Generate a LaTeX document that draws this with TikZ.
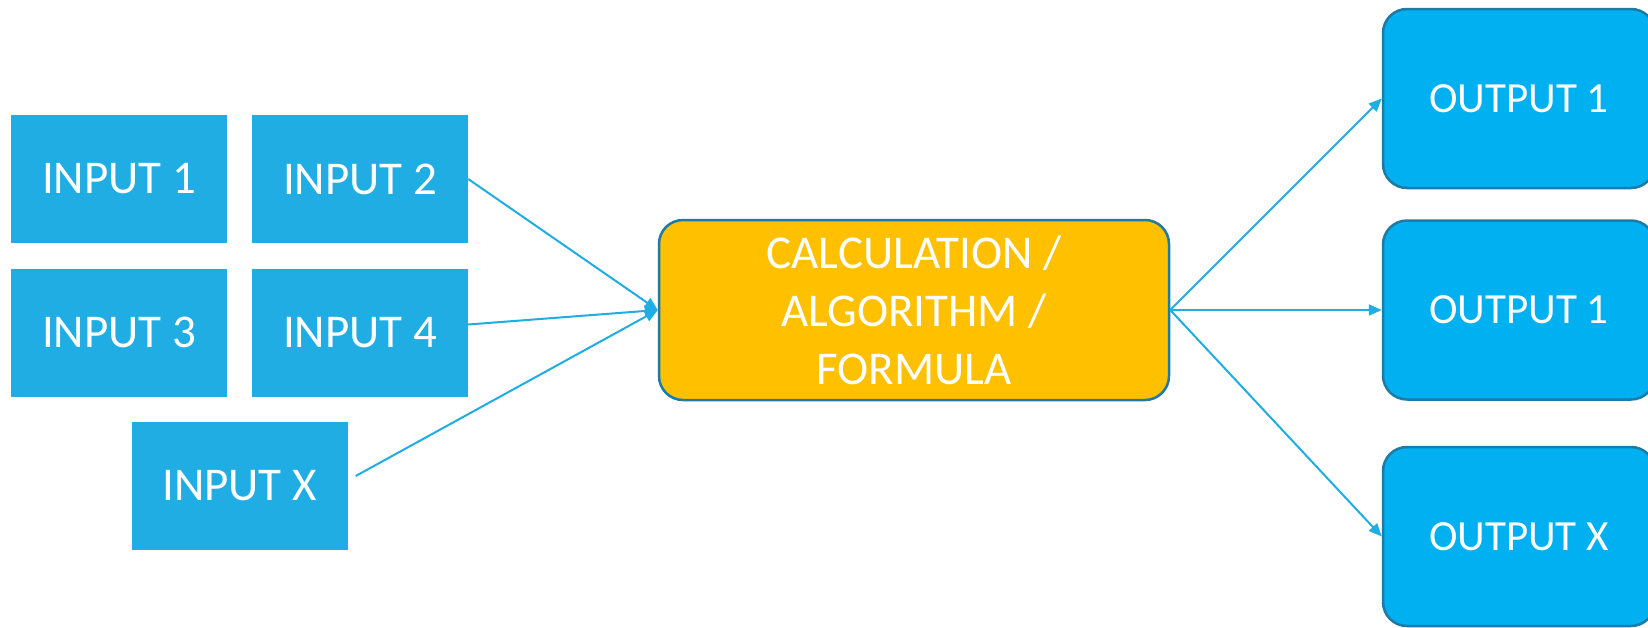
\documentclass[tikz,border=0pt]{standalone}
\usepackage{fontspec}
\setmainfont{Carlito}
\usetikzlibrary{arrows.meta}
\definecolor{inblue}{HTML}{1FADE3}
\definecolor{outblue}{HTML}{00B0F0}
\definecolor{edgeteal}{HTML}{1E7BA5}
\definecolor{calcyellow}{HTML}{FFC000}
\definecolor{arrowblue}{HTML}{1FADE3}
\tikzset{
  inbox/.style={fill=inblue, draw=none, minimum width=216pt, minimum height=128pt,
    inner sep=0pt, text=white, font=\fontsize{47}{56}\selectfont},
  outbox/.style={fill=outblue, draw=edgeteal, line width=2.5pt, rounded corners=24pt,
    minimum width=272pt, minimum height=179pt, inner sep=0pt, text=white,
    font=\fontsize{43}{52}\selectfont},
  calcbox/.style={fill=calcyellow, draw=edgeteal, line width=2.5pt, rounded corners=24pt,
    minimum width=510pt, minimum height=180pt, inner sep=0pt, text=white, align=center,
    font=\fontsize{47}{58}\selectfont},
  flow/.style={draw=arrowblue, line width=2pt, -{Triangle[length=13pt,width=11pt]}},
}
\begin{document}
\begin{tikzpicture}[x=1pt,y=-1pt]
\useasboundingbox (0,0) rectangle (1648,627);
\node[inbox] (in1) at (119,179) {INPUT 1};
\node[inbox] (in2) at (360,179) {INPUT 2};
\node[inbox] (in3) at (119,332.5) {INPUT 3};
\node[inbox] (in4) at (360,332.5) {INPUT 4};
\node[inbox] (inx) at (239.5,486) {INPUT X};
\node[calcbox] (calc) at (914,310) {CALCULATION /\\ALGORITHM /\\FORMULA};
\node[outbox] (out1) at (1519,98.5) {OUTPUT 1};
\node[outbox] (out2) at (1519,310) {OUTPUT 1};
\node[outbox] (outx) at (1519,536.5) {OUTPUT X};
\coordinate (xs) at ([xshift=8pt,yshift=10pt]inx.east);
\draw[flow] (in2.east) -- (calc.west);
\draw[flow] ([yshift=8pt]in4.east) -- (calc.west);
\draw[flow] (xs) -- (calc.west);
\draw[flow] (calc.east) -- (out1.west);
\draw[flow] (calc.east) -- (out2.west);
\draw[flow] (calc.east) -- (outx.west);
\end{tikzpicture}
\end{document}
